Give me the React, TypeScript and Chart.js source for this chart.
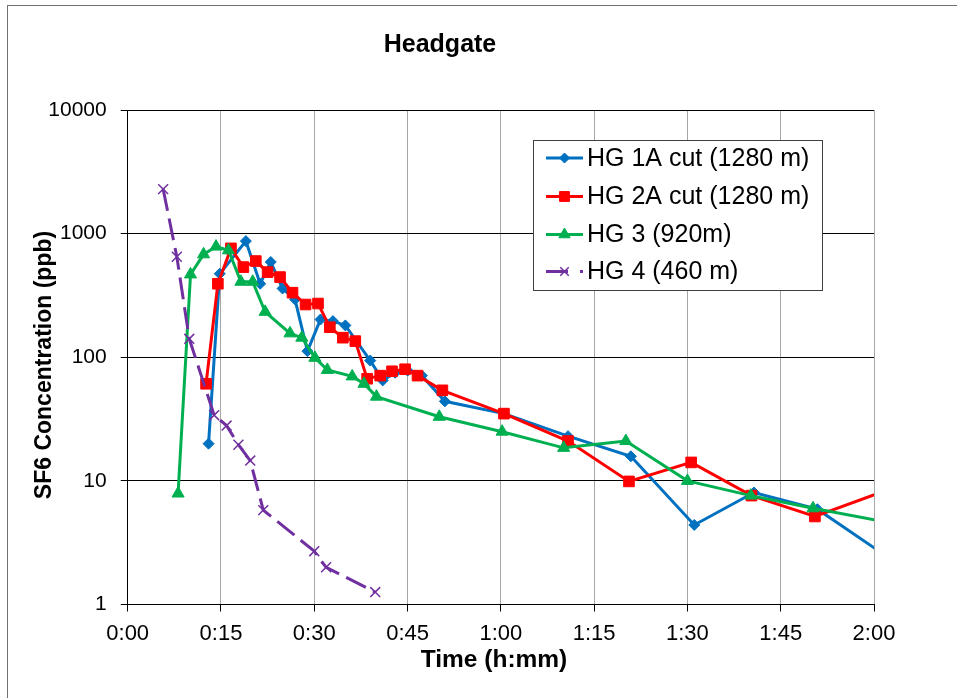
import React, { useEffect, useRef } from "react";
import { Chart, registerables } from "chart.js";
import { drawPoint } from "chart.js/helpers";

Chart.register(...registerables);

const TITLE = "Headgate";
const X_TITLE = "Time (h:mm)";
const Y_TITLE = "SF6 Concentration (ppb)";

const X_TICKS = [0, 15, 30, 45, 60, 75, 90, 105, 120];
const Y_TICKS = [1, 10, 100, 1000, 10000];

const LABELS = ["HG 1A cut (1280 m)", "HG 2A cut (1280 m)", "HG 3 (920m)", "HG 4 (460 m)"];

// time in minutes
const HG1A_T = [13, 14.8, 19, 21.3, 23, 24.9, 26.9, 28.9, 31, 33, 35, 39, 41, 43, 45, 47.3, 51, 60.5, 70.8, 80.9, 91.1, 100.7, 110.9, 130];
const HG1A_V = [20, 474, 870, 393, 590, 360, 294, 112, 202, 196, 181, 94, 65, 75, 78, 71, 44, 35, 23, 15.8, 4.4, 8.05, 5.9, 1.31];

const HG2A_T = [12.6, 14.5, 16.6, 18.6, 20.6, 22.5, 24.5, 26.5, 28.6, 30.6, 32.5, 34.6, 36.6, 38.5, 40.6, 42.5, 44.6, 46.6, 50.6, 60.5, 70.8, 80.6, 90.6, 100.3, 110.5, 130];
const HG2A_V = [61, 393, 760, 536, 600, 488, 445, 333, 267, 272, 175, 144, 135, 67, 71, 77, 80, 71, 54, 35, 21, 9.9, 14.1, 7.6, 5.15, 11.8];

const HG3_T = [8.1, 10.1, 12.2, 14.2, 16.2, 18.2, 20.1, 22.1, 26.1, 28, 30.1, 32.1, 36.1, 38, 40, 50.1, 60.2, 70.1, 80.1, 90, 100.2, 110.2, 130];
const HG3_V = [7.9, 468, 680, 785, 733, 408, 408, 233, 156, 144, 99, 79, 70, 61, 48, 33, 25, 18.5, 21, 10, 7.6, 6.0, 3.9];

const HG4_T = [5.7, 7.9, 9.9, 13.9, 15.9, 17.8, 19.7, 21.8, 30, 31.9, 39.8];
const HG4_V = [2290, 650, 141, 34, 28, 19.6, 14.6, 5.8, 2.7, 2.0, 1.26];

const FONT = "'Liberation Sans', Arial, Helvetica, sans-serif";

const BLUE = "#0070C0";
const RED = "#FF0000";
const GREEN = "#00B050";
const PURPLE = "#7030A0";

const toXY = (t: number[], v: number[]) => t.map((x, i) => ({ x, y: v[i] }));
const fmtTime = (m: number) => {
  const h = Math.floor(m / 60);
  const mm = Math.round(m - h * 60);
  return `${h}:${mm < 10 ? "0" : ""}${mm}`;
};

const SERIES_STYLE = [
  { color: BLUE, pointStyle: "rectRot", radius: 5.5, legendRadius: 5, dash: [] as number[], pbw: 1 },
  { color: RED, pointStyle: "rect", radius: 7.5, legendRadius: 7, dash: [] as number[], pbw: 1 },
  { color: GREEN, pointStyle: "triangle", radius: 7, legendRadius: 6.5, dash: [] as number[], pbw: 1 },
  { color: PURPLE, pointStyle: "crossRot", radius: 7, legendRadius: 6, dash: [22, 8], pbw: 1.5 },
];

const overlayPlugin = {
  id: "overlay",
  afterDraw(chart: any) {
    const ctx: CanvasRenderingContext2D = chart.ctx;
    ctx.save();
    ctx.fillStyle = "#000";
    ctx.textAlign = "center";
    ctx.textBaseline = "middle";
    ctx.font = `bold 25px ${FONT}`;
    ctx.fillText(TITLE, 440, 45);
    ctx.font = `bold 24.5px ${FONT}`;
    ctx.fillText(X_TITLE, 494, 660);
    ctx.save();
    ctx.font = `bold 23px ${FONT}`;
    ctx.translate(45, 365);
    ctx.rotate(-Math.PI / 2);
    ctx.fillText(Y_TITLE, 0, 0);
    ctx.restore();

    // legend
    const bx = 533.5, by = 140.5, bw = 289, bh = 150;
    ctx.fillStyle = "#fff";
    ctx.fillRect(bx, by, bw, bh);
    ctx.strokeStyle = "#404040";
    ctx.lineWidth = 1;
    ctx.strokeRect(bx, by, bw, bh);
    const rows = [158, 196.5, 234.5, 271.5];
    ctx.font = `25px ${FONT}`;
    ctx.textAlign = "left";
    rows.forEach((ry, i) => {
      const st = SERIES_STYLE[i];
      ctx.save();
      ctx.strokeStyle = st.color;
      ctx.lineWidth = 3;
      ctx.setLineDash(st.dash.length ? [22, 12] : []);
      ctx.beginPath();
      ctx.moveTo(546, ry);
      ctx.lineTo(583, ry);
      ctx.stroke();
      ctx.setLineDash([]);
      ctx.fillStyle = st.color;
      ctx.strokeStyle = st.color;
      ctx.lineWidth = st.pbw;
      drawPoint(ctx, { pointStyle: st.pointStyle as any, radius: st.legendRadius, rotation: 0, borderWidth: st.pbw }, 564.5, ry);
      ctx.restore();
      ctx.fillStyle = "#000";
      ctx.fillText(LABELS[i], 587, ry + 1);
    });
    ctx.restore();
  },
};

export default function App() {
  const ref = useRef<HTMLCanvasElement | null>(null);
  useEffect(() => {
    if (!ref.current) return;
    const series = [
      [HG1A_T, HG1A_V],
      [HG2A_T, HG2A_V],
      [HG3_T, HG3_V],
      [HG4_T, HG4_V],
    ];
    const datasets = series.map(([t, v], i) => {
      const st = SERIES_STYLE[i];
      return {
        label: LABELS[i],
        data: toXY(t, v),
        borderColor: st.color,
        backgroundColor: st.color,
        borderWidth: 3,
        borderDash: st.dash,
        pointStyle: st.pointStyle as any,
        pointRadius: st.radius,
        pointBorderWidth: st.pbw,
        pointBackgroundColor: st.color,
        pointBorderColor: st.color,
        tension: 0,
        order: 4 - i,
      };
    });
    const chart = new Chart(ref.current, {
      type: "line",
      data: { datasets },
      options: {
        animation: false,
        responsive: false,
        maintainAspectRatio: false,
        layout: { padding: { left: 0, right: 83, top: 110, bottom: 0 } },
        plugins: { legend: { display: false }, title: { display: false }, tooltip: { enabled: false } },
        scales: {
          x: {
            type: "linear",
            min: 0,
            max: 120,
            afterBuildTicks: (s: any) => {
              s.ticks = X_TICKS.map((v) => ({ value: v }));
            },
            afterFit: (s: any) => {
              s.height = 93.5;
            },
            ticks: {
              callback: (v: any) => fmtTime(Number(v)),
              font: { size: 22, family: FONT },
              color: "#000",
              padding: 9,
              maxRotation: 0,
              autoSkip: false,
            },
            grid: { color: "#a6a6a6", tickColor: "#000", tickLength: 7, lineWidth: 1 },
            border: { color: "#000", width: 1 },
          },
          y: {
            type: "logarithmic",
            min: 1,
            max: 10000,
            afterBuildTicks: (s: any) => {
              s.ticks = Y_TICKS.map((v) => ({ value: v, major: true }));
            },
            afterFit: (s: any) => {
              s.width = 127.7;
            },
            ticks: {
              callback: (v: any) => String(v),
              font: { size: 21, family: FONT },
              color: "#000",
              padding: 14,
              autoSkip: false,
            },
            grid: { color: "#000", tickColor: "#000", tickLength: 7, lineWidth: 1 },
            border: { color: "#000", width: 1 },
          },
        },
      },
      plugins: [overlayPlugin],
    });
    return () => chart.destroy();
  }, []);

  return (
    <>
      <div
        style={{
          position: "absolute",
          left: 7,
          top: 5,
          width: 950,
          height: 693,
          borderLeft: "1px solid #707070",
          borderTop: "1px solid #707070",
          boxSizing: "border-box",
        }}
      />
      <canvas ref={ref} width={957} height={698} style={{ position: "absolute", left: 0, top: 0 }} />
    </>
  );
}
